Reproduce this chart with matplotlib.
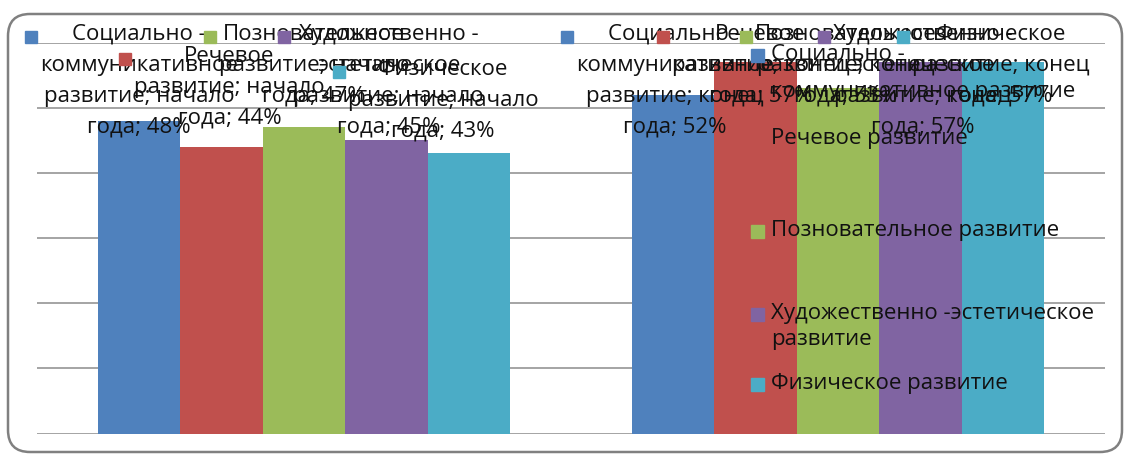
import matplotlib.pyplot as plt
from matplotlib.patches import Rectangle, FancyBboxPatch
from matplotlib.transforms import IdentityTransform
import numpy as np

plt.rcParams['font.family'] = ['Open Sans', 'DejaVu Sans']

W, H = 1129, 459

# data
periods = ['начало года', 'конец года']
areas = ['Социально -\nкоммуникативное\nразвитие', 'Речевое\nразвитие', 'Позновательное\nразвитие',
         'Художественно -\nэстетическое\nразвитие', 'Физическое\nразвитие']
legend_names = ['Социально -\nкоммуникативное развитие', 'Речевое развитие', 'Позновательное развитие',
                'Художественно -эстетическое\nразвитие', 'Физическое развитие']
start_vals = [48, 44, 47, 45, 43]
end_vals = [52, 57, 53, 57, 57]
colors = ['#4F81BD', '#C0504D', '#9BBB59', '#8064A2', '#4BACC6']

# where the (overlapping) data labels sit: first line row from top, x shift in px
label_row = [[33, 55, 33, 33, 68], [33, 33, 33, 33, 33]]
label_dx = [[0, 8, 10, 2, -26], [2, 5, 8, 2, -2]]
legend_rows = [56, 140, 232, 315, 385]
legend_ls = [2.0, 1.3, 1.3, 1.3, 1.3]

FS = 16
LS = 1.62

fig = plt.figure(figsize=(W / 100, H / 100), dpi=100)
ax = fig.add_axes([37 / W, (H - 433.5) / H, (1105 - 37) / W, (433.5 - 42.5) / H])

x = np.arange(len(periods))
bw = 0.1545
series = list(zip(start_vals, end_vals))
for i, vals in enumerate(series):
    ax.bar(x + (i - 2) * bw, vals, bw, color=colors[i], zorder=2)

ax.set_xlim(-0.5, 1.5)
ax.set_ylim(0, 60)
ax.set_yticks(range(0, 61, 10))
ax.yaxis.grid(True, color='#8c8c8c', lw=1.1)
ax.set_axisbelow(True)
ax.set_xticks([])
ax.tick_params(length=0, labelleft=False)
for s in ax.spines.values():
    s.set_visible(False)

def fpos(px, py):
    return px / W, 1 - py / H

# data labels, with a legend key in front of each
labels = []
for g, period in enumerate(periods):
    p1, p2 = period.split(' ')
    for i in range(len(areas)):
        v = series[i][g]
        txt = f'{areas[i]}; {p1}\n{p2}; {v}%'
        cx = ax.transData.transform((x[g] + (i - 2) * bw, 0))[0] + label_dx[g][i]
        t = fig.text(*fpos(cx, label_row[g][i] - 9), txt, ha='center', va='top',
                     fontsize=FS, linespacing=LS, color='#111111', zorder=5)
        labels.append((t, colors[i]))

fig.canvas.draw()
for t, c in labels:
    bb = t.get_window_extent()
    fig.add_artist(Rectangle((bb.x0 - 15, bb.y1 - 19), 12, 12, color=c,
                             transform=IdentityTransform(), zorder=6))

# legend on the right
for i, name in enumerate(legend_names):
    r = legend_rows[i]
    fig.add_artist(Rectangle((751, H - r - 6), 13, 13, color=colors[i],
                             transform=IdentityTransform(), zorder=6))
    fig.text(*fpos(771, r - 12), name, ha='left', va='top', fontsize=FS,
             linespacing=legend_ls[i], color='#111111', zorder=5)

# rounded chart border
fig.add_artist(FancyBboxPatch((8, 7), 1114, 438, boxstyle='round,pad=0,rounding_size=22',
                              fill=False, ec='#808080', lw=1.8, transform=IdentityTransform()))

fig.savefig('out.png', dpi=100)
